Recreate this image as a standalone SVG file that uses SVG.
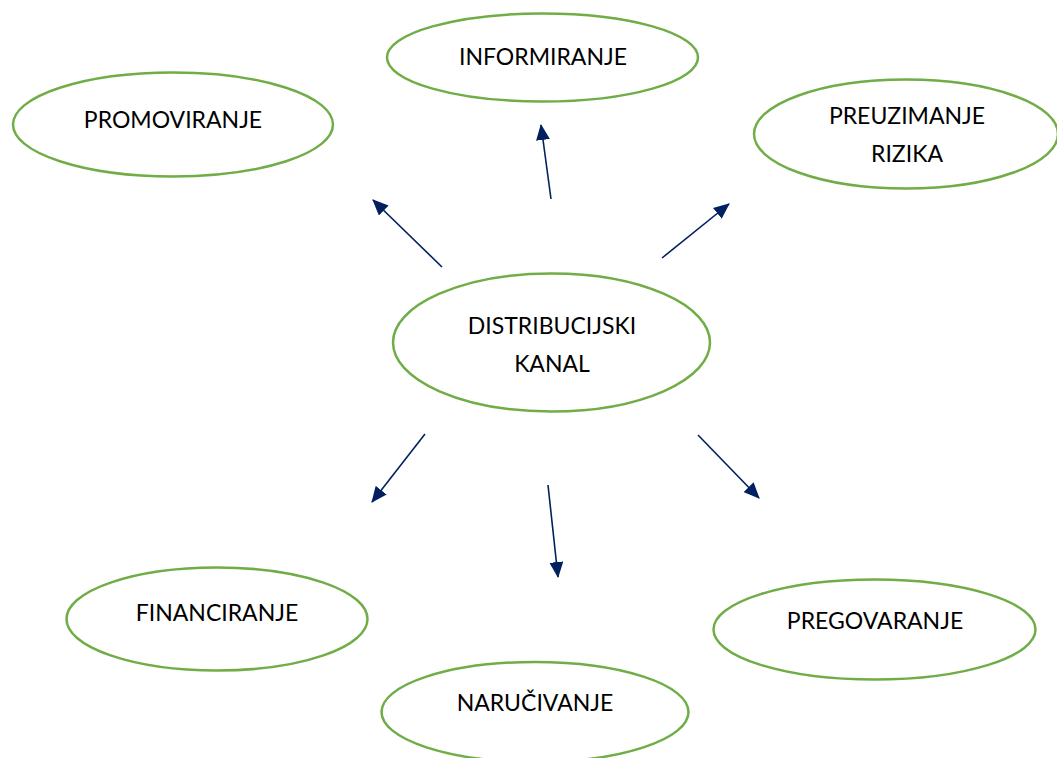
<svg xmlns="http://www.w3.org/2000/svg" width="1057" height="758" viewBox="0 0 1057 758">
<style>
.n{fill:#fff;stroke:#70ad47;stroke-width:2.5}
.t{font-family:Lato,"Open Sans","Liberation Sans",sans-serif;font-size:23px;fill:#000;text-anchor:middle}
.c{stroke:#002060;stroke-width:1.6;fill:none;marker-end:url(#ah)}
</style>
<defs>
<marker id="ah" viewBox="0 0 16 14" refX="15" refY="7" markerWidth="16" markerHeight="14" markerUnits="userSpaceOnUse" orient="auto">
<path d="M0,0 L16,7 L0,14 z" fill="#002060"/>
</marker>
</defs>
<rect width="1057" height="758" fill="#fff"/>
<g id="connectors">
<line class="c" x1="442" y1="267" x2="373" y2="200"/>
<line class="c" x1="551" y1="199" x2="541" y2="125"/>
<line class="c" x1="662" y1="258" x2="729" y2="204"/>
<line class="c" x1="425" y1="434" x2="372" y2="502"/>
<line class="c" x1="548" y1="485" x2="558" y2="577"/>
<line class="c" x1="698" y1="435" x2="759" y2="498"/>
</g>
<g id="promoviranje"><ellipse class="n" cx="173" cy="124.5" rx="160" ry="52"/><text class="t" x="173" y="128">PROMOVIRANJE</text></g>
<g id="informiranje"><ellipse class="n" cx="542.5" cy="57.5" rx="155.5" ry="44"/><text class="t" x="543" y="65">INFORMIRANJE</text></g>
<g id="preuzimanje"><ellipse class="n" cx="906" cy="134" rx="152" ry="54.5"/><text class="t" x="907" y="124">PREUZIMANJE</text><text class="t" x="907" y="162">RIZIKA</text></g>
<g id="distribucijski"><ellipse class="n" cx="551.5" cy="342.5" rx="158.5" ry="69"/><text class="t" x="552" y="334">DISTRIBUCIJSKI</text><text class="t" x="552" y="372">KANAL</text></g>
<g id="financiranje"><ellipse class="n" cx="217" cy="619" rx="150.5" ry="51.5"/><text class="t" x="217" y="621">FINANCIRANJE</text></g>
<g id="narucivanje"><ellipse class="n" cx="535" cy="712" rx="153.5" ry="50"/><text class="t" x="535" y="711">NARUČIVANJE</text></g>
<g id="pregovaranje"><ellipse class="n" cx="874.5" cy="629.5" rx="161" ry="50"/><text class="t" x="875" y="629">PREGOVARANJE</text></g>
</svg>
